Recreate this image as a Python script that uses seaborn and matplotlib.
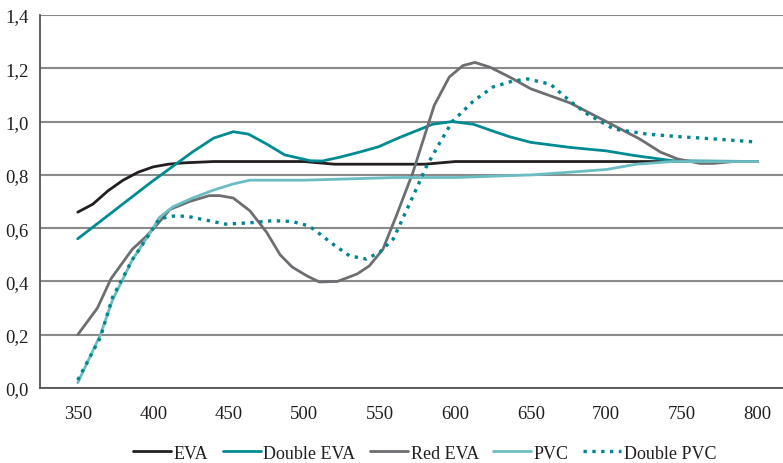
import matplotlib
matplotlib.use("Agg")
import matplotlib.pyplot as plt
import seaborn as sns
import pandas as pd

# ---- data ----
eva_nm = [350, 360, 370, 380, 390, 400, 410, 420, 440, 460, 500, 520, 580, 600, 700, 800]
eva_val = [0.66, 0.69, 0.74, 0.78, 0.81, 0.83, 0.84, 0.845, 0.85, 0.85, 0.85, 0.84, 0.84, 0.85, 0.85, 0.85]

deva_nm = [350, 398, 426, 440, 453, 463, 475, 487, 504, 512, 524, 537, 549, 563, 585, 598, 612, 623, 636, 650, 676, 700, 718, 744, 800]
deva_val = [0.56, 0.77, 0.886, 0.938, 0.962, 0.953, 0.916, 0.875, 0.853, 0.852, 0.867, 0.886, 0.905, 0.94, 0.99, 1.0, 0.99, 0.968, 0.943, 0.922, 0.903, 0.89, 0.873, 0.853, 0.85]

reva_nm = [350, 363, 372, 386, 395, 402, 411, 424, 437, 444, 453, 464, 475, 484, 492, 502, 510, 522, 535, 543, 552, 561, 572, 579, 586, 596, 605, 613, 623, 636, 650, 676, 700, 722, 736, 747, 762, 771, 784, 800]
reva_val = [0.2, 0.3, 0.41, 0.52, 0.567, 0.61, 0.67, 0.70, 0.722, 0.722, 0.713, 0.665, 0.585, 0.50, 0.454, 0.42, 0.398, 0.40, 0.428, 0.458, 0.52, 0.647, 0.81, 0.935, 1.06, 1.167, 1.21, 1.222, 1.204, 1.167, 1.123, 1.07, 1.0, 0.935, 0.885, 0.86, 0.843, 0.843, 0.85, 0.85]

pvc_nm = [350, 365, 373, 386, 400, 404, 413, 426, 440, 453, 464, 500, 560, 600, 651, 700, 720, 744, 800]
pvc_val = [0.02, 0.20, 0.33, 0.48, 0.60, 0.64, 0.68, 0.713, 0.743, 0.766, 0.78, 0.78, 0.79, 0.79, 0.80, 0.82, 0.84, 0.85, 0.85]

dpvc_nm = [350, 365, 373, 386, 400, 404, 413, 422, 435, 448, 464, 479, 492, 502, 506, 519, 530, 541, 550, 559, 572, 581, 590, 598, 612, 625, 638, 648, 663, 676, 687, 705, 727, 749, 771, 800]
dpvc_val = [0.03, 0.19, 0.34, 0.48, 0.60, 0.635, 0.645, 0.645, 0.63, 0.615, 0.62, 0.628, 0.625, 0.61, 0.597, 0.54, 0.496, 0.484, 0.51, 0.56, 0.72, 0.833, 0.923, 1.0, 1.077, 1.13, 1.152, 1.16, 1.14, 1.077, 1.03, 0.972, 0.953, 0.943, 0.935, 0.923]

x_ticks = [350, 400, 450, 500, 550, 600, 650, 700, 750, 800]
y_ticks = [0.0, 0.2, 0.4, 0.6, 0.8, 1.0, 1.2, 1.4]
y_labels = ["0,0", "0,2", "0,4", "0,6", "0,8", "1,0", "1,2", "1,4"]

series = [
    ("EVA", eva_nm, eva_val, "#231f20", "-"),
    ("Double EVA", deva_nm, deva_val, "#008b92", "-"),
    ("Red EVA", reva_nm, reva_val, "#6d6e71", "-"),
    ("PVC", pvc_nm, pvc_val, "#6cbdc3", "-"),
    ("Double PVC", dpvc_nm, dpvc_val, "#00868f", ":"),
]

sns.set_theme(style="white")
plt.rcParams["font.family"] = ["Liberation Serif", "DejaVu Serif"]

fig = plt.figure(figsize=(7.83, 4.64), dpi=100)
ax = fig.add_axes([40 / 783, 1 - 389 / 464, 1 - 40 / 783, (389 - 16) / 464])

for name, xs, ys, col, ls in series:
    df = pd.DataFrame({"nm": xs, "v": ys})
    sns.lineplot(data=df, x="nm", y="v", ax=ax, color=col, linestyle=ls,
                 linewidth=2.0 if ls == "-" else 2.4, label=name, sort=False)

ax.set_xlim(325, 817)
ax.set_ylim(0, 1.4)
ax.set_xticks(x_ticks)
ax.set_xticklabels([str(t) for t in x_ticks], fontsize=13.5, color="#231f20")
ax.set_yticks(y_ticks)
ax.set_yticklabels(y_labels, fontsize=13.5, color="#231f20")
ax.tick_params(axis="y", length=0, pad=8)
ax.tick_params(axis="x", length=0, pad=12)
ax.set_xlabel("")
ax.set_ylabel("")
ax.grid(axis="y", color="#8a8a8a", linewidth=1.5)
ax.set_axisbelow(True)
for s in ["top", "right"]:
    ax.spines[s].set_visible(False)
for s in ["left", "bottom"]:
    ax.spines[s].set_color("#555555")
    ax.spines[s].set_linewidth(1.3)

leg = ax.legend(loc="center", bbox_to_anchor=(0.518, -0.175), ncol=5, frameon=False,
                fontsize=13, handlelength=2.1, handletextpad=0.15, columnspacing=0.8,
                borderaxespad=0)
for t in leg.get_texts():
    t.set_color("#231f20")

fig.savefig("out.png", dpi=100)
